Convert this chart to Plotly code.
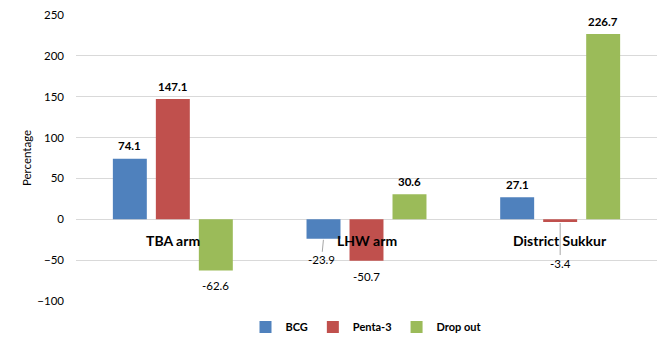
import plotly.graph_objects as go

categories = ["TBA arm", "LHW arm", "District Sukkur"]
series_names = ["BCG", "Penta-3", "Drop out"]
bcg = [74.1, -23.9, 27.1]
penta3 = [147.1, -50.7, -3.4]
dropout = [-62.6, 30.6, 226.7]
colors = ["#4F81BD", "#C0504D", "#9BBB59"]
y_ticks = [-100, -50, 0, 50, 100, 150, 200, 250]

FONT = "Lato, 'Open Sans', sans-serif"
bargap = 0.334
series = [bcg, penta3, dropout]

fig = go.Figure()
for name, vals, col in zip(series_names, series, colors):
    fig.add_trace(go.Bar(name=name, x=categories, y=vals, marker_color=col,
                         marker_line_width=0))

slot = (1 - bargap) / 3
# negative-label offsets (px below bar end) and whether a leader line is drawn
neg_offsets = {(0, 2): (15, False), (1, 0): (21, True), (1, 1): (16, False), (2, 1): (41, True)}
annotations = []
for j, vals in enumerate(series):
    for i, v in enumerate(vals):
        xpos = i + (j - 1) * slot
        txt = f"{v:.1f}"
        if v >= 0:
            annotations.append(dict(x=xpos, y=v, xref="x", yref="y", text=f"<b>{txt}</b>",
                                    showarrow=False, yanchor="middle", yshift=13,
                                    font=dict(size=11.5, color="#000000", family=FONT)))
        else:
            off, leader = neg_offsets.get((i, j), (15, False))
            if leader:
                annotations.append(dict(x=xpos, y=v, xref="x", yref="y", text=txt,
                                        showarrow=True, arrowhead=0, arrowwidth=1,
                                        arrowcolor="#A6A6A6", ax=-2 if i == 1 else 0, ay=off,
                                        standoff=1,
                                        font=dict(size=11.5, color="#000000", family=FONT)))
            else:
                annotations.append(dict(x=xpos, y=v, xref="x", yref="y", text=txt,
                                        showarrow=False, yanchor="middle", yshift=-off,
                                        font=dict(size=11.5, color="#000000", family=FONT)))

for i, c in enumerate(categories):
    annotations.append(dict(x=i, y=0, xref="x", yref="y", text=f"<b>{c}</b>",
                            showarrow=False, yanchor="middle", yshift=-21,
                            font=dict(size=14, color="#000000", family=FONT)))

fig.update_layout(
    width=671, height=348,
    margin=dict(l=76, r=14, t=15, b=47, autoexpand=False),
    paper_bgcolor="white", plot_bgcolor="white",
    barmode="group", bargap=bargap, bargroupgap=0.21,
    font=dict(family=FONT, size=12, color="#000000"),
    showlegend=True,
    legend=dict(orientation="h", x=0.5, xanchor="center",
                yref="container", y=(348 - 327) / 348, yanchor="middle",
                font=dict(size=11, family=FONT, color="#000000", weight="bold"),
                itemwidth=30, traceorder="normal"),
    annotations=annotations,
)
fig.update_xaxes(showticklabels=False, showgrid=False, zeroline=False, showline=False,
                 range=[-0.5, 2.5], automargin=False)
fig.update_yaxes(range=[-100, 250], tickvals=y_ticks, showgrid=True, gridcolor="#D9D9D9",
                 gridwidth=1, zeroline=True, zerolinecolor="#D9D9D9", zerolinewidth=1,
                 showline=False, ticklabelstandoff=11, automargin=False,
                 tickfont=dict(size=11.5, color="#000000", family=FONT),
                 title=dict(text="Percentage", standoff=3,
                            font=dict(size=11.5, color="#000000", family=FONT)))

fig.write_html("out.html")
